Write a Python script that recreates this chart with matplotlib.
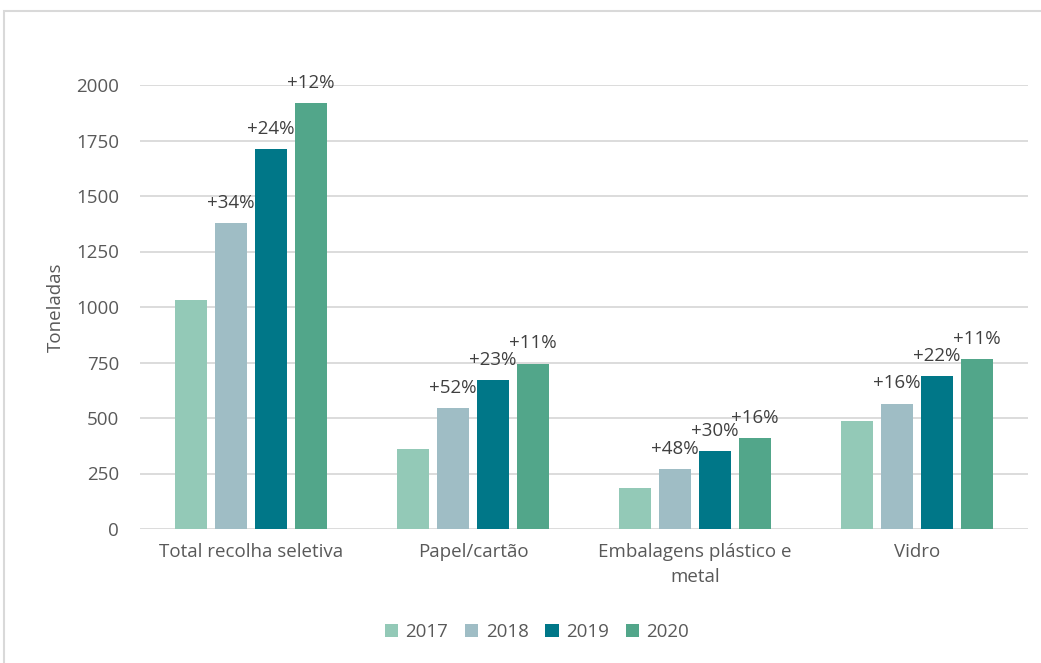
import matplotlib as mpl
mpl.use("Agg")
import matplotlib.pyplot as plt
from matplotlib.patches import Rectangle
import numpy as np

categories = ["Total recolha seletiva", "Papel/cartão", "Embalagens plástico e\nmetal", "Vidro"]
years = ["2017", "2018", "2019", "2020"]
values = {
    "2017": [1030, 360, 185, 487],
    "2018": [1380, 545, 270, 565],
    "2019": [1710, 670, 350, 690],
    "2020": [1920, 745, 410, 765],
}
growth = {
    "2018": ["+34%", "+52%", "+48%", "+16%"],
    "2019": ["+24%", "+23%", "+30%", "+22%"],
    "2020": ["+12%", "+11%", "+16%", "+11%"],
}
colors = ["#93C9B7", "#9FBDC5", "#007788", "#52A68A"]

W, H = 1041, 663
plt.rcParams['font.family'] = ['Open Sans', 'DejaVu Sans']
fig = plt.figure(figsize=(W / 100, H / 100), dpi=100)
fig.patches.append(Rectangle((4 / W, -0.2), 1.2, 1.2 - 11 / H, transform=fig.transFigure,
                             fill=False, edgecolor="#D9D9D9", linewidth=1.5))
ax = fig.add_axes([140 / W, 134 / H, 888 / W, 444 / H])

x = np.arange(len(categories))
step = 40 / 222
width = 32 / 222
for j, yr in enumerate(years):
    pos = x + (j - 1.5) * step
    ax.bar(pos, values[yr], width, color=colors[j], label=yr, zorder=3)
    if yr in growth:
        for p, v, t in zip(pos, values[yr], growth[yr]):
            ax.annotate(t, (p, v), xytext=(0, 8), textcoords="offset points",
                        ha="center", va="bottom", fontsize=13.5, color="#404040")

ax.set_xlim(-0.5, len(categories) - 0.5)
ax.set_ylim(0, 2000)
ax.set_yticks(range(0, 2001, 250))
ax.set_xticks(x)
ax.set_xticklabels(categories, fontsize=13.5, color="#595959", linespacing=1.5)
ax.tick_params(axis="y", labelsize=13.5, labelcolor="#595959", length=0, pad=15)
ax.tick_params(axis="x", length=0, pad=10)
ax.grid(axis="y", color="#D9D9D9", linewidth=1.3, zorder=0)
for s in ax.spines.values():
    s.set_visible(False)
ax.set_ylabel("Toneladas", fontsize=13.5, color="#595959", labelpad=8)

fig.legend(loc="center", bbox_to_anchor=(537 / W, 1 - 632 / H), ncol=4, frameon=False,
           fontsize=13.5, labelcolor="#595959", handlelength=0.7, handleheight=0.7,
           handletextpad=0.4, columnspacing=0.9)

fig.savefig("out.png", dpi=100)
